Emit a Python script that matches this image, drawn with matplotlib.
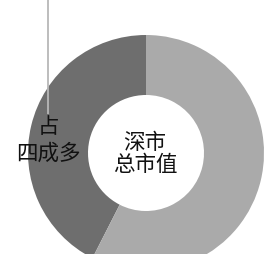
import matplotlib
matplotlib.use("Agg")
import matplotlib.pyplot as plt

# data
segments = ["占四成多", "其余"]
shares = [42.5, 57.5]
colors = ["#6e6e6e", "#aaaaaa"]
center_label = "深市\n总市值"
segment_label_top = "占"
segment_label_bottom = "四成多"

plt.rcParams['font.family'] = ['Noto Sans CJK SC', 'DejaVu Sans']

W, H = 266, 254
fig = plt.figure(figsize=(W / 100, H / 100), dpi=100)
ax = fig.add_axes([0, 0, 1, 1])

cx, cy = 146, H - 153
R, r = 118, 58
ax.pie(shares, colors=colors, startangle=90, counterclock=True,
       radius=R, center=(cx, cy),
       wedgeprops=dict(width=R - r, edgecolor='none', linewidth=0))

ax.set_xlim(0, W)
ax.set_ylim(0, H)
ax.set_aspect('equal')
ax.axis('off')

# leader line
ax.plot([48, 48], [H, H - 114], color="#b8b8b8", lw=1.3, solid_capstyle='butt')

ax.text(48, H - 127, segment_label_top, ha='center', va='center',
        fontsize=15.5, color='#111111', fontweight='medium')
ax.text(48, H - 154, segment_label_bottom, ha='center', va='center',
        fontsize=15.5, color='#111111', fontweight='medium')
ax.text(145, H - 154, center_label, ha='center', va='center',
        fontsize=15.5, color='#111111', linespacing=1.0, fontweight='medium')

fig.savefig("out.png", dpi=100)
